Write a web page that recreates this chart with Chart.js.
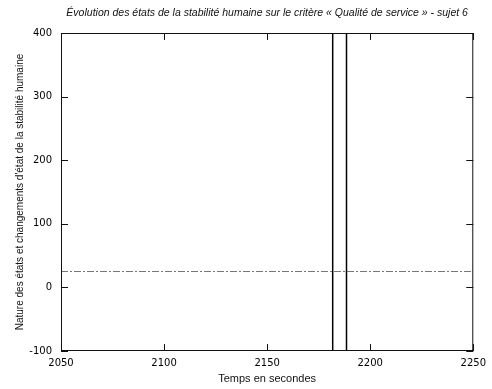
<!DOCTYPE html>
<html>
<head>
<meta charset="utf-8">
<script src="https://cdn.jsdelivr.net/npm/chart.js@4/dist/chart.umd.min.js"></script>
<style>
  html, body { margin: 0; padding: 0; background: #fff; }
  #wrap { width: 492px; height: 389px; }
</style>
</head>
<body>
<div id="wrap"><canvas id="stabChart"></canvas></div>
<script>
// data
const baseTimes = [2050, 2181.8, 2188.5, 2250];
const baseLevels = [25, 25, 25, 25];
const switchTimes = [2181.8, 2188.5];
const switchLow = [-100, -100];
const switchHigh = [400, 400];
const xTicks = [2050, 2100, 2150, 2200, 2250];
const yTicks = [-100, 0, 100, 200, 300, 400];

const titleText = 'Évolution des états de la stabilité humaine sur le critère « Qualité de service » - sujet 6';

const baseData = baseTimes.map((t, i) => ({ x: t, y: baseLevels[i] }));
const switchData = [];
switchTimes.forEach((t, i) => {
    switchData.push({ x: t, y: switchLow[i] });
    switchData.push({ x: t, y: switchHigh[i] });
    switchData.push({ x: t, y: null });
});

// gnuplot style frame, inward ticks on all sides, and the title over the plot area
const framePlugin = {
    id: 'frame',
    afterDraw(chart) {
        const ctx = chart.ctx;
        const a = chart.chartArea;
        const sx = chart.scales.x, sy = chart.scales.y;
        ctx.save();
        ctx.strokeStyle = '#111';
        ctx.lineWidth = 1;
        ctx.strokeRect(a.left + 0.5, a.top + 0.5, a.right - a.left - 1, a.bottom - a.top - 1);
        for (const v of xTicks) {
            const px = Math.round(sx.getPixelForValue(v)) + 0.5;
            ctx.beginPath();
            ctx.moveTo(px, a.bottom);
            ctx.lineTo(px, a.bottom - 7);
            ctx.moveTo(px, a.top);
            ctx.lineTo(px, a.top + 7);
            ctx.stroke();
        }
        for (const v of yTicks) {
            const py = Math.round(sy.getPixelForValue(v)) + 0.5;
            ctx.beginPath();
            ctx.moveTo(a.left, py);
            ctx.lineTo(a.left + 7, py);
            ctx.moveTo(a.right, py);
            ctx.lineTo(a.right - 7, py);
            ctx.stroke();
        }
        ctx.fillStyle = '#111';
        ctx.font = 'italic 10.5px "Liberation Sans", sans-serif';
        ctx.textAlign = 'center';
        ctx.textBaseline = 'middle';
        ctx.fillText(titleText, (a.left + a.right) / 2, 13);
        ctx.restore();
    }
};

new Chart(document.getElementById('stabChart'), {
    type: 'line',
    data: {
        datasets: [{
            data: baseData,
            borderColor: '#777',
            borderWidth: 1,
            borderDash: [7, 2, 2, 2],
            pointRadius: 0
        }, {
            data: switchData,
            borderColor: '#000',
            borderWidth: 1.5,
            pointRadius: 0,
            spanGaps: false
        }]
    },
    options: {
        responsive: true,
        maintainAspectRatio: false,
        animation: false,
        layout: { padding: { top: 33, right: 16 } },
        plugins: { legend: { display: false }, tooltip: { enabled: false } },
        scales: {
            x: {
                type: 'linear',
                min: 2050,
                max: 2250,
                afterBuildTicks: s => { s.ticks = xTicks.map(v => ({ value: v })); },
                afterFit: s => { s.height = 38; },
                grid: { display: false, drawTicks: false },
                border: { display: false },
                ticks: {
                    color: '#000', padding: 6, maxRotation: 0,
                    font: { family: 'DejaVu Sans', size: 10 },
                    callback: v => String(v)
                },
                title: {
                    display: true,
                    text: 'Temps en secondes',
                    color: '#111',
                    font: { family: 'Liberation Sans', size: 11 },
                    padding: { top: 0, bottom: 3 }
                }
            },
            y: {
                min: -100,
                max: 400,
                afterBuildTicks: s => { s.ticks = yTicks.map(v => ({ value: v })); },
                afterFit: s => { s.width = 61; },
                grid: { display: false, drawTicks: false },
                border: { display: false },
                ticks: { color: '#000', padding: 9, font: { family: 'DejaVu Sans', size: 10 } },
                title: {
                    display: true,
                    text: "Nature des états et changements d'état de la stabilité humaine",
                    color: '#111',
                    font: { family: 'Liberation Sans', size: 10 },
                    padding: { top: 14, bottom: 0 }
                }
            }
        }
    },
    plugins: [framePlugin]
});
</script>
</body>
</html>
